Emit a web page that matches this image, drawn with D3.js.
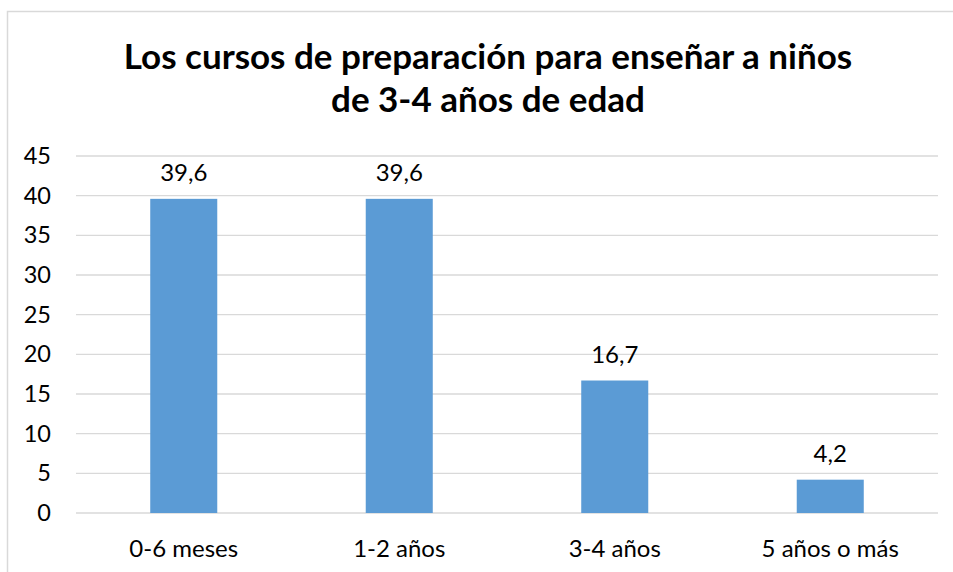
<!DOCTYPE html>
<html><head><meta charset="utf-8">
<script src="https://cdn.jsdelivr.net/npm/d3@7"></script>
<style>html,body{margin:0;padding:0;background:#fff;}svg{display:block;}</style>
</head><body>
<script>
const categories = ["0-6 meses", "1-2 años", "3-4 años", "5 años o más"];
const values = [39.6, 39.6, 16.7, 4.2];
const valueLabels = ["39,6", "39,6", "16,7", "4,2"];
const yTicks = [0, 5, 10, 15, 20, 25, 30, 35, 40, 45];
const titleLines = ["Los cursos de preparación para enseñar a niños", "de 3-4 años de edad"];

(function () {
const W = 953, H = 572;
const svg = d3.select("body").append("svg").attr("width", W).attr("height", H);
const font = "Lato, 'Open Sans', sans-serif";

// chart border
svg.append("path").attr("d", `M7.5,${H} V11.5 H${W}`).attr("fill", "none")
  .attr("stroke", "#d9d9d9").attr("stroke-width", 1.5);

const plotL = 76, plotR = 938, plotT = 156, plotB = 513;
const x = d3.scaleBand().domain(categories).range([plotL, plotR]).paddingInner(0.689).paddingOuter(0.3445);
const y = d3.scaleLinear().domain([0, 45]).range([plotB, plotT]);

// gridlines
svg.append("g").selectAll("line").data(yTicks).join("line")
  .attr("x1", plotL).attr("x2", plotR)
  .attr("y1", d => y(d)).attr("y2", d => y(d))
  .attr("stroke", "#d9d9d9").attr("stroke-width", 1.3);

// y axis labels
const yAxis = d3.axisLeft(y).tickValues(yTicks).tickSize(0).tickPadding(25);
const gy = svg.append("g").attr("transform", `translate(${plotL},0)`).call(yAxis);
gy.select(".domain").remove();
gy.selectAll("text").attr("font-family", font).attr("font-size", 23.5).attr("fill", "#000");

// bars
svg.append("g").selectAll("rect").data(values).join("rect")
  .attr("x", (d, i) => x(categories[i]))
  .attr("width", x.bandwidth())
  .attr("y", d => y(d))
  .attr("height", d => y(0) - y(d))
  .attr("fill", "#5b9bd5");

// value labels
svg.append("g").selectAll("text").data(values).join("text")
  .attr("x", (d, i) => x(categories[i]) + x.bandwidth() / 2)
  .attr("y", d => y(d) - 18)
  .attr("text-anchor", "middle")
  .attr("font-family", font).attr("font-size", 24).attr("fill", "#000")
  .text((d, i) => valueLabels[i]);

// x axis labels
const xAxis = d3.axisBottom(x).tickSize(0).tickPadding(0);
const gx = svg.append("g").attr("transform", `translate(0,${plotB})`).call(xAxis);
gx.select(".domain").remove();
gx.selectAll("text").attr("dy", null).attr("y", 44)
  .attr("font-family", font).attr("font-size", 24).attr("fill", "#000");

// title
svg.append("g").selectAll("text").data(titleLines).join("text")
  .attr("x", 488).attr("y", (d, i) => 69 + i * 43)
  .attr("text-anchor", "middle")
  .attr("font-family", font).attr("font-weight", "bold").attr("font-size", 35)
  .attr("fill", "#000")
  .text(d => d);
})();
</script>
</body></html>
